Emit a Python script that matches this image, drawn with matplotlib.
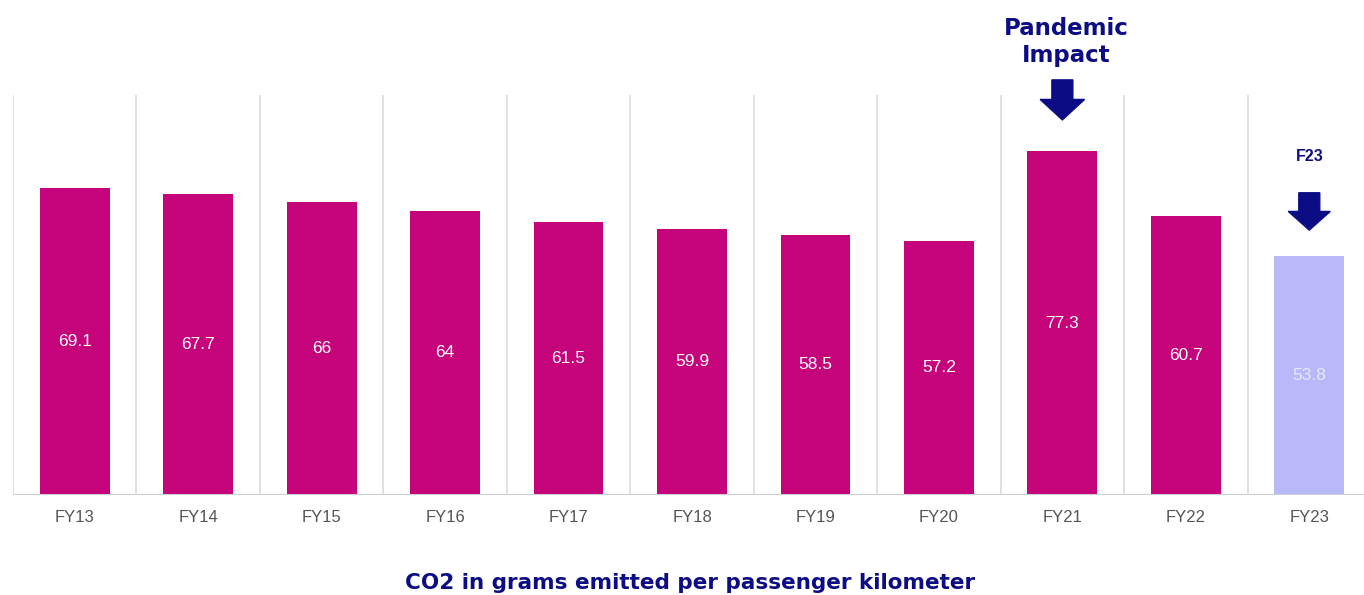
import matplotlib
matplotlib.use("Agg")
import matplotlib.pyplot as plt
from matplotlib.patches import FancyArrow

years = ["FY13", "FY14", "FY15", "FY16", "FY17", "FY18", "FY19", "FY20", "FY21", "FY22", "FY23"]
# bar heights as drawn in the picture (FY22 bar is drawn a little taller than its label)
co2 = [69.1, 67.7, 66, 64, 61.5, 59.9, 58.5, 57.2, 77.3, 62.8, 53.8]
labels = ["69.1", "67.7", "66", "64", "61.5", "59.9", "58.5", "57.2", "77.3", "60.7", "53.8"]

MAGENTA = "#c5037b"
LAVENDER = "#b9b9f9"
NAVY = "#0c0c85"

fig = plt.figure(figsize=(13.64, 5.95), dpi=100)
W, H = 1364, 595
# plot area in pixels: x 13..1371, y 95..495
ax = fig.add_axes([13 / W, (H - 495) / H, 1358 / W, 400 / H])
ax.set_xlim(0, len(years))
ax.set_ylim(0, 90)

xs = [i + 0.5 for i in range(len(years))]
colors = [MAGENTA] * (len(years) - 1) + [LAVENDER]
ax.bar(xs, co2, width=0.565, color=colors, zorder=3)

# vertical separators between categories
for i in range(len(years)):
    ax.axvline(i, color="#dcdcdc", lw=1.2, zorder=1)
ax.axhline(0, color="#cfcfcf", lw=1.5, zorder=4)

for x, v, lab, c in zip(xs, co2, labels, colors):
    tc = "#e8e8ff" if c == LAVENDER else "white"
    ax.text(x, v / 2, lab, ha="center", va="center", color=tc,
            fontsize=12.5, family="Liberation Sans", zorder=5)

for s in ax.spines.values():
    s.set_visible(False)
ax.set_yticks([])
ax.set_xticks(xs)
ax.set_xticklabels(years, fontsize=12, family="Liberation Sans", color="#555555")
ax.tick_params(axis="x", length=0, pad=11)

# annotations
i21 = years.index("FY21")
ax.add_patch(FancyArrow(xs[i21], 93.4, 0, -9.0, width=0.17, head_width=0.36,
                        head_length=4.6, length_includes_head=True,
                        color=NAVY, clip_on=False, zorder=6))
ax.text(xs[i21] + 0.03, 101.9, "Pandemic\nImpact", ha="center", va="center",
        fontsize=16.5, fontweight="bold", family="DejaVu Sans", color=NAVY,
        linespacing=1.2, clip_on=False)

i23 = years.index("FY23")
ax.add_patch(FancyArrow(xs[i23], 68.0, 0, -8.4, width=0.17, head_width=0.34,
                        head_length=4.2, length_includes_head=True,
                        color=NAVY, clip_on=False, zorder=6))
ax.text(xs[i23], 76.2, "F23", ha="center", va="center", fontsize=11.5,
        fontweight="bold", family="Liberation Sans", color=NAVY)

fig.text(690 / W, 1 - 583 / H, "CO2 in grams emitted per passenger kilometer",
         ha="center", va="center", fontsize=15.5, fontweight="bold",
         family="DejaVu Sans", color=NAVY)

fig.savefig("out.png", dpi=100)
